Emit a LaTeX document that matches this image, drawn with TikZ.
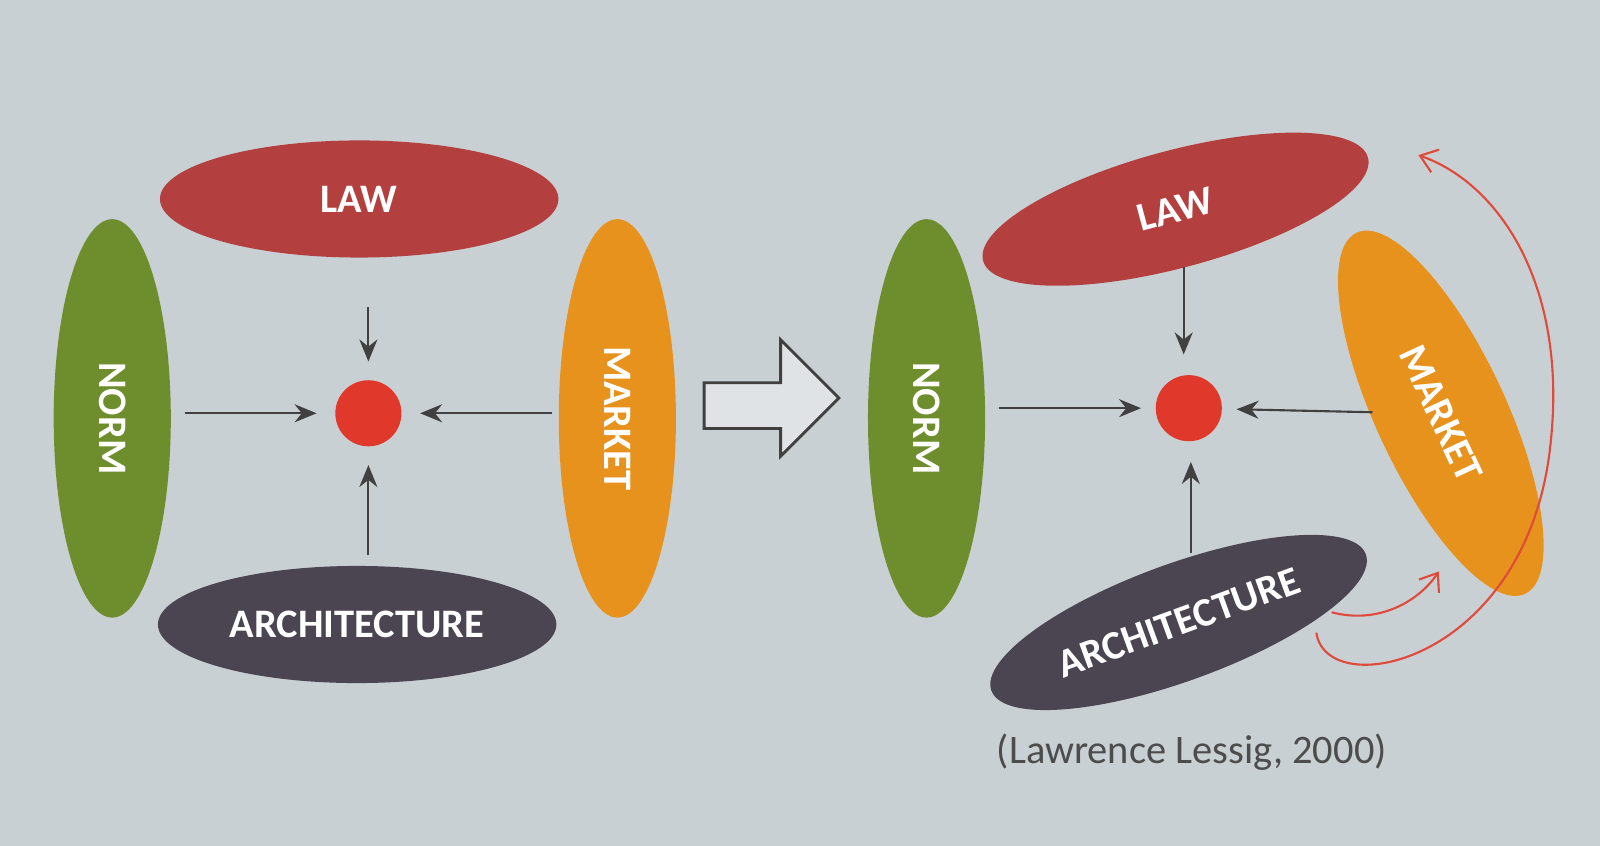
\documentclass[tikz,border=0pt]{standalone}
\usepackage{fontspec}
\setmainfont{Carlito}
\usetikzlibrary{arrows.meta,shapes.geometric,calc}
\definecolor{bg}{HTML}{C9D0D4}
\definecolor{lawred}{HTML}{B3403F}
\definecolor{normgreen}{HTML}{6E8E2E}
\definecolor{marketorange}{HTML}{E8921E}
\definecolor{archgray}{HTML}{4A4550}
\definecolor{dotred}{HTML}{E0382A}
\definecolor{pen}{HTML}{E04A3A}

\begin{document}
\begin{tikzpicture}[x=0.0102cm, y=-0.0102cm,
    every node/.style={font=\fontsize{11.5}{13}\selectfont\bfseries, text=white},
    flat/.style={ellipse, minimum width=3.98cm, minimum height=1.17cm, inner sep=0pt},
    tall/.style={ellipse, minimum width=1.17cm, minimum height=3.98cm, inner sep=0pt},
    hub/.style={circle, fill=dotred, minimum size=0.66cm, inner sep=0pt},
    arr/.style={-{Stealth[length=2.2mm, width=1.8mm]}, black!75, semithick},
    pencil/.style={-{Straight Barb[length=1.6mm, width=2.4mm]}, pen, semithick},
]
\fill[bg] (0,0) rectangle (1568,829);

% Left: four forces around the dot
\node[flat, fill=lawred]  (law)  at (352,195) {LAW};
\node[tall, fill=normgreen] (norm) at (110,410) {\rotatebox{-90}{NORM}};
\node[tall, fill=marketorange] (market) at (605,410) {\rotatebox{-90}{MARKET}};
\node[flat, fill=archgray] (arch) at (350,612) {ARCHITECTURE};
\node[hub] (dot) at (361,405) {};

\draw[arr, shorten <=0.49cm, shorten >=0.18cm] (law.south -| dot) -- (dot);
\draw[arr, shorten <=0.13cm, shorten >=0.18cm] (norm.east |- dot) -- (dot);
\draw[arr, shorten <=0.06cm, shorten >=0.18cm] (market.west |- dot) -- (dot);
\draw[arr, shorten <=0.1cm, shorten >=0.18cm] (arch.north -| dot) -- (dot);

% Big hollow arrow
\draw[black!75, thick, fill=bg!60]
    (690,375) -- (765,375) -- (765,333) -- (822,390) -- (765,447)
    -- (765,420) -- (690,420) -- cycle;

% Right: tilted forces
\node[tall, fill=normgreen] (norm2) at (908,410) {\rotatebox{-90}{NORM}};
\node[flat, fill=lawred, rotate=15] (law2) at (1152,205) {LAW};
\node[tall, fill=marketorange, minimum width=1.3cm, rotate=25] (market2) at (1412,405) {\rotatebox{-90}{MARKET}};
\node[flat, fill=archgray, rotate=20] (arch2) at (1155,610) {ARCHITECTURE};
\node[hub] (dot2) at (1165,400) {};

\coordinate (lawout)  at (1160,262);
\coordinate (archout) at (1167,542);
\coordinate (mktout)  at (1345,404);
\draw[arr, shorten >=0.2cm] (lawout) -- (lawout |- dot2.north);
\draw[arr, shorten <=0.13cm, shorten >=0.14cm] (norm2.east |- dot2) -- (dot2);
\draw[arr, shorten >=0.14cm] (mktout) -- (dot2);
\draw[arr, shorten >=0.2cm] (archout) -- (archout |- dot2.south);

% Red hand-drawn curves
\coordinate (pa) at (1305,600);
\coordinate (pb) at (1410,560);
\coordinate (pc) at (1290,620);
\coordinate (pd) at (1390,152);
\draw[pencil] (pa) .. controls (1350,612) and (1390,590) .. (pb);
\draw[pencil] (pc) .. controls (1300,690) and (1500,650) .. (1520,430)
    .. controls (1535,280) and (1470,180) .. (pd);

\node[text=black!70, font=\fontsize{11.5}{13}\selectfont] (cite) at (1168,737) {(Lawrence Lessig, 2000)};
\end{tikzpicture}
\end{document}
